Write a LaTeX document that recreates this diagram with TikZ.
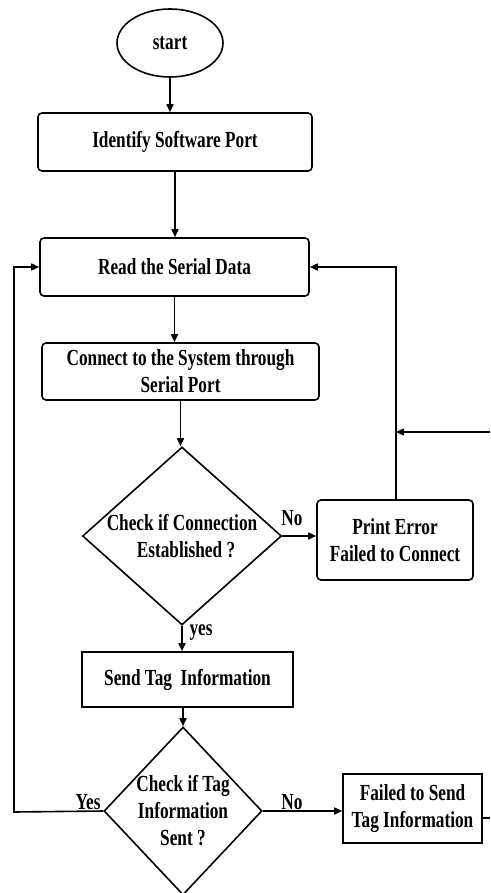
\documentclass[tikz,border=0pt]{standalone}
\usepackage{fontspec}
\newfontfamily\diagfont[FakeStretch=0.75]{Liberation Serif}
\usetikzlibrary{shapes.geometric,arrows.meta}
\tikzset{
  txt/.style={font=\diagfont\bfseries\fontsize{23}{27}\selectfont, align=center},
  rbox/.style={txt, draw, line width=1.6pt, rounded corners=4pt, inner sep=0pt},
  sbox/.style={txt, draw, line width=1.6pt, inner sep=0pt},
  oval/.style={txt, draw, line width=1.6pt, ellipse, inner sep=0pt},
  decision/.style={txt, draw, line width=1.6pt, diamond},
  flow/.style={line width=1.6pt, -{Triangle[length=8pt,width=7pt]}},
  plain/.style={line width=1.6pt},
  lbl/.style={txt, inner sep=0pt}
}
\begin{document}
\begin{tikzpicture}[x=1pt,y=-1pt]
  \useasboundingbox[fill=white] (0,0) rectangle (490,893);

  % process steps
  \node[oval, minimum width=106pt, minimum height=68pt] (start) at (170,43) {start};
  \node[rbox, minimum width=274pt, minimum height=58pt] (ident) at (175,142) {Identify Software Port};
  \node[rbox, minimum width=269pt, minimum height=58pt] (read) at (174.5,267) {Read the Serial Data};
  \node[rbox, minimum width=277pt, minimum height=57pt] (conn) at (180.5,371.5) {Connect to the System through\\Serial Port};
  \node[decision, minimum width=199pt, minimum height=178pt, aspect=1.118, inner sep=-1.3pt] (chk1) at (182,536) {Check if Connection\\\hspace*{8pt}Established ?};
  \node[rbox, minimum width=156pt, minimum height=80pt] (perr) at (395,540) {Print Error\\Failed to Connect};
  \node[sbox, minimum width=211pt, minimum height=55pt] (send) at (187.5,679.5) {Send Tag\ \ Information};
  \node[decision, minimum width=158pt, minimum height=168pt, aspect=0.94, inner sep=-1.5pt] (chk2) at (183,811) {Check if Tag\\Information\\Sent ?};
  \node[sbox, minimum width=139pt, minimum height=69pt] (fail) at (412.5,808.5) {Failed to Send\\Tag Information};

  % free ends and bends
  \coordinate (retin) at (490,432);
  \coordinate (retjoin) at (396,432);
  \coordinate (loopx) at (14,812);
  \coordinate (failout) at (490,818);

  % main flow
  \draw[flow] (start.south) -- (start.south |- ident.north);
  \draw[flow] (ident.south) -- (ident.south |- read.north);
  \draw[flow] (read.south) -- (read.south |- conn.north);
  \draw[flow] (conn.south) -- (conn.south |- chk1.north);
  \draw[flow] (chk1.east) -- (chk1.east -| perr.west);
  \draw[flow] (chk1.south) -- (chk1.south |- send.north);
  \draw[flow] (send.south -| chk2.north) -- (chk2.north);
  \draw[flow] (chk2.east) -- (chk2.east -| fail.west);

  % loops back to reading
  \draw[flow] (perr.north -| retjoin) |- (read.east);
  \draw[flow] (retin) -- (retjoin);
  \draw[flow] (chk2.west) -- (loopx) |- (read.west);
  \draw[plain] (fail.east |- failout) -- (failout);

  % branch labels
  \node[lbl] (no1) at (292,518) {No};
  \node[lbl] (yes1) at (201,633) {yes};
  \node[lbl] (yes2) at (88,802) {Yes};
  \node[lbl] (no2) at (292,802) {No};
\end{tikzpicture}
\end{document}
